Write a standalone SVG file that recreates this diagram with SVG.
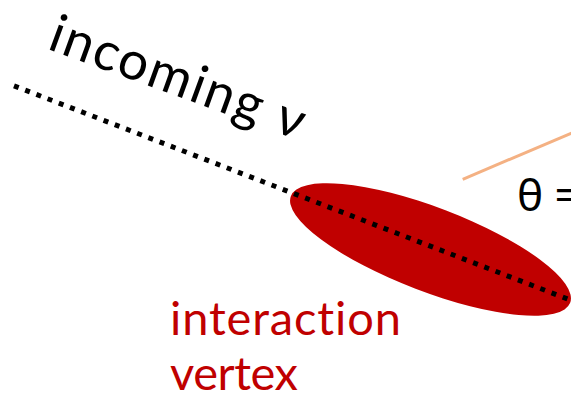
<svg xmlns="http://www.w3.org/2000/svg" width="571" height="401" viewBox="0 0 571 401">
  <style>
    .lbl { font-family: "Lato", "Noto Sans", "DejaVu Sans", sans-serif; font-variant-ligatures: none; }
    .blk { fill: #000000; }
    .red { fill: #C00000; }
    .dots { stroke: #000000; stroke-width: 5; stroke-dasharray: 5 7; fill: none; }
    .orange { stroke: #F4B183; stroke-width: 3; fill: none; }
  </style>
  <rect x="0" y="0" width="571" height="401" fill="#FFFFFF"/>
  <g id="vertex">
    <ellipse cx="430.5" cy="249.5" rx="149.5" ry="42" transform="rotate(20.9 430.5 249.5)" fill="#C00000"/>
  </g>
  <g id="connectors">
    <line class="dots" x1="14" y1="85.8" x2="585" y2="305.7"/>
    <line class="orange" x1="462.7" y1="179.3" x2="575" y2="131.6"/>
  </g>
  <g id="incoming-label">
    <text class="lbl blk" transform="translate(46 48.5) rotate(20)" x="0" y="0" font-size="53" textLength="268">incoming ν</text>
  </g>
  <g id="theta-label">
    <text class="blk" font-family="Noto Sans, DejaVu Sans, sans-serif" x="517" y="211" font-size="44">θ =</text>
  </g>
  <g id="vertex-label">
    <text class="lbl red" x="170" y="335" font-size="47" textLength="231">interaction</text>
    <text class="lbl red" x="170" y="390" font-size="47" textLength="128">vertex</text>
  </g>
</svg>
